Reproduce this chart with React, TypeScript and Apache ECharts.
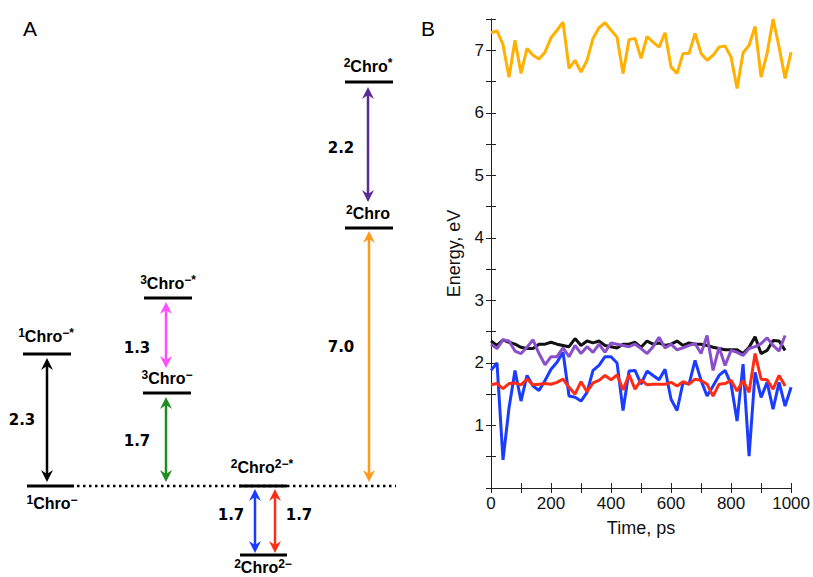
import React, { useEffect, useRef } from 'react';
import * as echarts from 'echarts';

// ---------- Panel B data ----------
const timePs = [0, 20, 40, 60, 80, 100, 120, 140, 160, 180, 200, 220, 240, 260, 280, 300, 320, 340, 360, 380, 400, 420, 440, 460, 480, 500, 520, 540, 560, 580, 600, 620, 640, 660, 680, 700, 720, 740, 760, 780, 800, 820, 840, 860, 880, 900, 920, 940, 960, 980, 1000];

const orangeEnergy = [7.28, 7.31, 7.09, 6.57, 7.16, 6.63, 7.03, 6.92, 6.86, 6.97, 7.2, 7.32, 7.45, 6.71, 6.84, 6.65, 6.84, 7.19, 7.36, 7.44, 7.32, 7.21, 6.63, 7.17, 7.19, 6.87, 7.22, 7.13, 7.05, 7.28, 6.73, 6.63, 6.95, 6.95, 7.27, 6.95, 6.84, 6.92, 7.05, 7.07, 6.89, 6.39, 6.96, 7.08, 7.38, 6.57, 6.95, 7.5, 7.05, 6.55, 6.97];

const blueEnergy = [1.88, 2.0, 0.45, 1.28, 1.88, 1.39, 1.8, 1.63, 1.56, 1.72, 1.9, 2.01, 2.17, 1.47, 1.45, 1.39, 1.53, 1.88, 1.96, 2.1, 2.1, 2.0, 1.24, 1.87, 1.88, 1.66, 1.87, 1.8, 1.73, 1.9, 1.42, 1.24, 1.69, 1.66, 2.04, 1.72, 1.47, 1.63, 1.8, 1.88, 1.66, 1.07, 1.98, 0.51, 1.85, 1.45, 1.69, 1.26, 1.69, 1.31, 1.61];

const redEnergy = [1.65, 1.67, 1.59, 1.67, 1.68, 1.65, 1.74, 1.65, 1.66, 1.67, 1.66, 1.69, 1.74, 1.61, 1.5, 1.7, 1.54, 1.68, 1.72, 1.8, 1.73, 1.81, 1.57, 1.81, 1.58, 1.73, 1.65, 1.66, 1.66, 1.66, 1.69, 1.63, 1.7, 1.66, 1.74, 1.72, 1.66, 1.47, 1.66, 1.67, 1.72, 1.55, 1.72, 1.53, 2.15, 1.74, 1.73, 1.58, 1.8, 1.63];

const blackEnergy = [2.35, 2.28, 2.37, 2.33, 2.3, 2.25, 2.23, 2.23, 2.3, 2.3, 2.33, 2.3, 2.28, 2.26, 2.39, 2.28, 2.35, 2.32, 2.35, 2.28, 2.26, 2.24, 2.3, 2.3, 2.33, 2.25, 2.35, 2.3, 2.32, 2.28, 2.3, 2.35, 2.28, 2.32, 2.3, 2.3, 2.28, 2.25, 2.23, 2.21, 2.21, 2.21, 2.15, 2.25, 2.42, 2.15, 2.2, 2.36, 2.35, 2.2];

const purpleEnergy = [2.3, 2.23, 2.37, 2.35, 2.19, 2.15, 2.25, 2.37, 2.15, 1.97, 2.1, 2.1, 2.24, 2.1, 2.28, 2.15, 2.26, 2.17, 2.3, 2.17, 2.32, 2.3, 2.28, 2.26, 2.3, 2.23, 2.15, 2.26, 2.41, 2.24, 2.3, 2.21, 2.24, 2.28, 2.31, 2.15, 2.44, 1.88, 2.25, 1.96, 2.2, 2.17, 2.12, 2.23, 2.26, 2.31, 2.4, 2.28, 2.19, 2.44];

const xLabelValues = [0, 200, 400, 600, 800, 1000];
const yLabelValues = [1, 2, 3, 4, 5, 6, 7];

// ---------- Panel A data ----------
// level name pieces: [superscript before, base, superscript after]
const levelNames: [string, string, string][] = [
  ['1', 'Chro', '−*'],
  ['1', 'Chro', '−'],
  ['3', 'Chro', '−*'],
  ['3', 'Chro', '−'],
  ['2', 'Chro', '2−*'],
  ['2', 'Chro', '2−'],
  ['2', 'Chro', ''],
  ['2', 'Chro', '*'],
];
const gapValues = ['2.3', '1.3', '1.7', '1.7', '1.7', '7.0', '2.2'];

// layout (schematic positions, pixels)
const levelLayout = [
  [23, 71, 354, 46, 336],
  [27, 74, 486, 52, 503],
  [144, 192, 298, 168, 283],
  [143, 191, 393, 167, 378],
  [239, 287, 486, 262, 467],
  [240, 287, 555, 263, 567],
  [345, 393, 228, 368, 213],
  [345, 393, 82, 368, 66],
];
// arrow: x, yTop, yBottom, color, label x, label y
const arrowLayout: [number, number, number, string, number, number][] = [
  [47, 358, 482, '#000000', 22, 420],
  [166, 302, 368, '#FF4DFF', 137, 348],
  [166, 397, 482, '#1E8C1E', 137, 441],
  [255, 489, 553, '#1A3CFF', 231, 515],
  [275, 489, 553, '#FF2D16', 299, 515],
  [369, 231, 482, '#FF9A1A', 341, 347],
  [368, 87, 202, '#5A2A96', 341, 148],
];

const FONT = '"Liberation Sans", Arial, Helvetica, sans-serif';

function arrowEls(x: number, y1: number, y2: number, color: string) {
  const h = 12;
  const w = 6;
  const notch = 4;
  return [
    { type: 'line', shape: { x1: x, y1: y1 + 6, x2: x, y2: y2 - 6 }, style: { stroke: color, lineWidth: 2.5 } },
    { type: 'polygon', shape: { points: [[x, y1], [x + w, y1 + h], [x, y1 + h - notch], [x - w, y1 + h]] }, style: { fill: color } },
    { type: 'polygon', shape: { points: [[x, y2], [x + w, y2 - h], [x, y2 - h + notch], [x - w, y2 - h]] }, style: { fill: color } },
  ];
}

function buildGraphics() {
  const els: any[] = [];
  // panel letters
  els.push({ type: 'text', x: 30, y: 28, style: { text: 'A', fontSize: 21, fontFamily: FONT, fill: '#000', align: 'center', textAlign: 'center', verticalAlign: 'middle', textVerticalAlign: 'middle' } });
  els.push({ type: 'text', x: 428, y: 28, style: { text: 'B', fontSize: 21, fontFamily: FONT, fill: '#000', align: 'center', textAlign: 'center', verticalAlign: 'middle', textVerticalAlign: 'middle' } });
  // dotted reference line
  els.push({ type: 'line', shape: { x1: 77, y1: 486, x2: 396, y2: 486 }, style: { stroke: '#000', lineWidth: 2.5, lineDash: [2.5, 3.5] } });
  // levels
  levelLayout.forEach((l, i) => {
    const [x1, x2, y, lx, ly] = l;
    els.push({ type: 'line', shape: { x1, y1: y, x2, y2: y }, style: { stroke: '#000', lineWidth: 3 } });
    const [pre, base, post] = levelNames[i];
    const txt = `{s|${pre}}{m|${base}}` + (post ? `{s|${post}}` : '');
    els.push({
      type: 'text', x: lx, y: ly,
      style: {
        text: txt, fill: '#000',
        align: 'center', textAlign: 'center', verticalAlign: 'middle', textVerticalAlign: 'middle',
        rich: {
          s: { fontSize: 12, fontFamily: FONT, fontWeight: 'bold', verticalAlign: 'top', lineHeight: 19, fill: '#000' },
          m: { fontSize: 16, fontFamily: FONT, fontWeight: 'bold', lineHeight: 19, fill: '#000' },
        },
      },
    });
  });
  // arrows with gap labels
  arrowLayout.forEach((a, i) => {
    const [x, y1, y2, color, lx, ly] = a;
    arrowEls(x, y1, y2, color).forEach((e) => els.push(e));
    els.push({ type: 'text', x: lx, y: ly, style: { text: gapValues[i], fontSize: 15, fontWeight: 'bold', fontFamily: '"DejaVu Sans", sans-serif', fill: '#000', align: 'center', textAlign: 'center', verticalAlign: 'middle', textVerticalAlign: 'middle' } });
  });
  return els;
}

const toPairs = (vals: number[]) => vals.map((v, i) => [timePs[i], v]);

export default function App() {
  const ref = useRef<HTMLDivElement>(null);
  useEffect(() => {
    if (!ref.current) return;
    const chart = echarts.init(ref.current, undefined, { renderer: 'svg' });
    const axisColor = '#222';
    const labelStyle = { color: '#111', fontSize: 17, fontFamily: FONT };
    const tick = { show: true, inside: true, length: 5, lineStyle: { color: axisColor, width: 1 } };
    const line = { show: true, lineStyle: { color: axisColor, width: 1 } };
    const mk = (name: string, vals: number[], color: string) => ({
      name, type: 'line', data: toPairs(vals), showSymbol: false, symbol: 'none',
      lineStyle: { color, width: 3 }, itemStyle: { color }, xAxisIndex: 0, yAxisIndex: 0, z: 3,
    });
    chart.setOption({
      animation: false,
      backgroundColor: '#ffffff',
      grid: [{ left: 491, top: 19, width: 301, height: 469 }],
      xAxis: [
        {
          type: 'value', min: 0, max: 1000, interval: 100, axisLine: line, axisTick: tick,
          axisLabel: { ...labelStyle, margin: 7, formatter: (v: number) => (xLabelValues.includes(v) ? String(v) : '') },
          splitLine: { show: false },
          name: 'Time, ps', nameLocation: 'middle', nameGap: 31,
          nameTextStyle: { fontSize: 18, color: '#111', fontFamily: FONT },
        },
        {
          type: 'value', position: 'top', min: 0, max: 1000, interval: 100, axisLine: line, axisTick: tick,
          axisLabel: { show: false }, splitLine: { show: false },
        },
      ],
      yAxis: [
        {
          type: 'value', min: 0, max: 7.5, interval: 0.5, axisLine: line, axisTick: tick,
          axisLabel: { ...labelStyle, margin: 7, formatter: (v: number) => (yLabelValues.includes(v) ? String(v) : '') },
          splitLine: { show: false },
          name: 'Energy, eV', nameLocation: 'middle', nameGap: 28,
          nameTextStyle: { fontSize: 18, color: '#111', fontFamily: FONT },
        },
        {
          type: 'value', position: 'right', min: 0, max: 7.5, interval: 0.5, axisLine: line, axisTick: tick,
          axisLabel: { show: false }, splitLine: { show: false },
        },
      ],
      series: [
        mk('orange', orangeEnergy, '#FFB000'),
        mk('blue', blueEnergy, '#1A3CFF'),
        mk('red', redEnergy, '#FF2D16'),
        mk('black', blackEnergy, '#111111'),
        mk('purple', purpleEnergy, '#8A4FCB'),
      ],
      graphic: buildGraphics(),
    });
    return () => chart.dispose();
  }, []);
  return <div ref={ref} style={{ position: 'fixed', left: 0, top: 0, width: 813, height: 577 }} />;
}
